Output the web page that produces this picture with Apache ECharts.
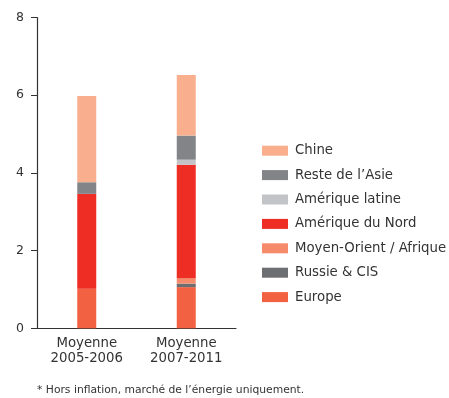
<!DOCTYPE html>
<html>
<head>
<meta charset="utf-8">
<script src="https://cdn.jsdelivr.net/npm/echarts@6/dist/echarts.min.js"></script>
<style>
  html, body { margin: 0; padding: 0; background: #fff; }
  #chart { width: 449px; height: 398px; }
</style>
</head>
<body>
<div id="chart"></div>
<script>
// Categories and per-region values (stacked bottom to top)
const categories = ['Moyenne\n2005-2006', 'Moyenne\n2007-2011'];
const europe = [1.02, 1.06];
const russie = [0, 0.09];
const moyenOrient = [0, 0.14];
const ameriqueNord = [2.44, 2.92];
const ameriqueLatine = [0, 0.13];
const resteAsie = [0.30, 0.62];
const chine = [2.22, 1.56];
const yTicks = [0, 2, 4, 6, 8];

const seriesDefs = [
  { name: 'Europe', data: europe, color: '#F26142' },
  { name: 'Russie & CIS', data: russie, color: '#6D6E72' },
  { name: 'Moyen-Orient / Afrique', data: moyenOrient, color: '#F68B6B' },
  { name: 'Amérique du Nord', data: ameriqueNord, color: '#EE2D25' },
  { name: 'Amérique latine', data: ameriqueLatine, color: '#C3C4C7' },
  { name: 'Reste de l\u2019Asie', data: resteAsie, color: '#838488' },
  { name: 'Chine', data: chine, color: '#F9AE8E' }
];

const font = 'DejaVu Sans, Verdana, sans-serif';
const chart = echarts.init(document.getElementById('chart'));

chart.setOption({
  animation: false,
  textStyle: { fontFamily: font },
  grid: { left: 37, right: 213, top: 17.5, bottom: 69.7 },
  legend: {
    orient: 'vertical',
    left: 262,
    top: 143.7,
    padding: 0,
    itemWidth: 26,
    itemHeight: 10,
    itemGap: 10.4,
    icon: 'rect',
    selectedMode: false,
    data: seriesDefs.map(s => s.name).reverse(),
    textStyle: { color: '#333', fontSize: 13.3, lineHeight: 14, fontFamily: font, padding: [0, 0, 0, 2] }
  },
  xAxis: {
    type: 'category',
    data: categories,
    axisLine: { lineStyle: { color: '#333', width: 1.2 } },
    axisTick: { show: false },
    axisLabel: { color: '#333', fontSize: 13.3, lineHeight: 15, margin: 8, fontFamily: font }
  },
  yAxis: {
    type: 'value',
    min: yTicks[0],
    max: yTicks[yTicks.length - 1],
    interval: 2,
    splitLine: { show: false },
    axisLine: { show: true, lineStyle: { color: '#333', width: 1.2 } },
    axisTick: { show: true, length: 6, lineStyle: { color: '#333' } },
    axisLabel: { color: '#333', fontSize: 12.5, margin: 13, fontFamily: font }
  },
  series: seriesDefs.map(s => ({
    name: s.name,
    type: 'bar',
    stack: 'total',
    barWidth: 19,
    data: s.data,
    itemStyle: { color: s.color }
  })),
  graphic: [{
    type: 'text',
    left: 37,
    top: 385,
    style: {
      text: '* Hors inflation, marché de l\u2019énergie uniquement.',
      fill: '#333',
      fontSize: 10.75,
      fontFamily: font
    }
  }]
});
</script>
</body>
</html>
